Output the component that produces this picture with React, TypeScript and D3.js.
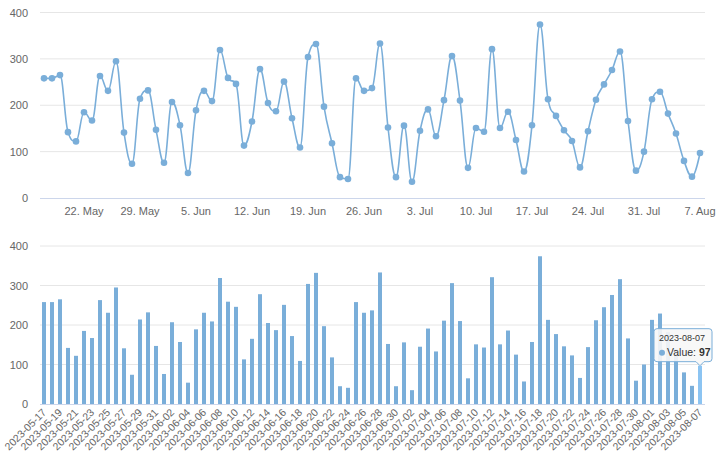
import React from "react";
import * as d3 from "d3";

const startDate = "2023-05-17";
const values: number[] = [
  258, 258, 265, 142, 122, 185, 167, 263, 231, 295,
  141, 74, 214, 232, 147, 76, 207, 157, 54, 189,
  231, 209, 319, 259, 246, 113, 165, 278, 205, 187,
  251, 172, 109, 304, 332, 197, 118, 45, 41, 258,
  231, 237, 333, 152, 45, 156, 35, 145, 191, 133,
  211, 306, 210, 65, 151, 143, 321, 151, 186, 125,
  57, 157, 374, 213, 177, 146, 123, 66, 144, 212,
  245, 276, 316, 166, 59, 100, 213, 229, 182, 139,
  80, 46, 97,
];
const yTicks = [0, 100, 200, 300, 400];
const tooltipIndex = 82;

const parse = d3.utcParse("%Y-%m-%d");
const fmt = d3.utcFormat("%Y-%m-%d");
const start = parse(startDate) as Date;
const dates: Date[] = values.map((_, i) => d3.utcDay.offset(start, i));
const labels = dates.map((d) => fmt(d));

const W = 720;
const H = 464;
const LEFT = 40;
const RIGHT = 705;
const FONT = "'Liberation Sans', Arial, Helvetica, sans-serif";
const COLOR = "#7aaed9";
const GRID = "#e6e6e6";
const AXIS = "#ccd6eb";
const LABEL = "#666666";

// Highcharts-style spline through scaled points
function splinePath(pts: [number, number][]): string {
  const sm = 1.5;
  const den = sm + 1;
  const ctrl = pts.map((p, i) => {
    const [x, y] = p;
    if (i === 0 || i === pts.length - 1) return { lx: x, ly: y, rx: x, ry: y };
    const [px, py] = pts[i - 1];
    const [nx, ny] = pts[i + 1];
    const lx = (sm * x + px) / den;
    let ly = (sm * y + py) / den;
    const rx = (sm * x + nx) / den;
    let ry = (sm * y + ny) / den;
    if (rx !== lx) {
      const corr = ((ry - ly) * (rx - x)) / (rx - lx) + y - ry;
      ly += corr;
      ry += corr;
    }
    if (ly > py && ly > y) {
      ly = Math.max(py, y);
      ry = 2 * y - ly;
    } else if (ly < py && ly < y) {
      ly = Math.min(py, y);
      ry = 2 * y - ly;
    }
    if (ry > ny && ry > y) {
      ry = Math.max(ny, y);
      ly = 2 * y - ry;
    } else if (ry < ny && ry < y) {
      ry = Math.min(ny, y);
      ly = 2 * y - ry;
    }
    return { lx, ly, rx, ry };
  });
  let d = `M${pts[0][0]},${pts[0][1]}`;
  for (let i = 1; i < pts.length; i++) {
    const a = ctrl[i - 1];
    const b = ctrl[i];
    d += ` C${a.rx},${a.ry} ${b.lx},${b.ly} ${pts[i][0]},${pts[i][1]}`;
  }
  return d;
}

export default function App() {
  // top line chart
  const xTop = d3.scaleUtc().domain([dates[0], dates[dates.length - 1]]).range([44, 700]);
  const yTop = d3.scaleLinear().domain([0, 400]).range([198, 12.5]);
  const pts: [number, number][] = values.map((v, i) => [xTop(dates[i]), yTop(v)]);
  const weekTicks = d3.utcMonday.range(dates[0], d3.utcDay.offset(dates[dates.length - 1], 1));
  const tickFmt = (d: Date) => `${d.getUTCDate()}. ${d3.utcFormat("%b")(d)}`;

  // bottom bar chart
  const xBot = d3.scaleBand<string>().domain(labels).range([40, 704]).paddingInner(0.5).paddingOuter(0.25);
  const yBot = d3.scaleLinear().domain([0, 400]).range([404, 246]);
  const bw = xBot.bandwidth();

  const tx = (xBot(labels[tooltipIndex]) as number) + bw / 2;
  const ty = yBot(values[tooltipIndex]);
  const boxR = tx + 12;
  const boxL = boxR - 58;
  const boxB = ty - 4;
  const boxT = boxB - 33;
  const r = 3;
  const tipPath = `M${boxL + r},${boxT} L${boxR - r},${boxT} Q${boxR},${boxT} ${boxR},${boxT + r} L${boxR},${boxB - r} Q${boxR},${boxB} ${boxR - r},${boxB} L${tx + 4},${boxB} L${tx},${ty} L${tx - 4},${boxB} L${boxL + r},${boxB} Q${boxL},${boxB} ${boxL},${boxB - r} L${boxL},${boxT + r} Q${boxL},${boxT} ${boxL + r},${boxT} Z`;

  return (
    <svg
      width={W}
      height={H}
      style={{ position: "absolute", left: 0, top: 0, background: "#fff" }}
      fontFamily={FONT}
    >
      {/* TOP CHART */}
      <g>
        {yTicks.map((t) => (
          <g key={"tg" + t}>
            {t > 0 && <line x1={LEFT} x2={RIGHT} y1={yTop(t)} y2={yTop(t)} stroke={GRID} strokeWidth={1} />}
            <text x={28} y={yTop(t) + 4} textAnchor="end" fontSize={11} fill={LABEL}>
              {t}
            </text>
          </g>
        ))}
        <line x1={LEFT} x2={RIGHT} y1={yTop(0) + 0.5} y2={yTop(0) + 0.5} stroke={AXIS} strokeWidth={1} />
        {weekTicks.map((d) => (
          <text key={"xt" + d.toISOString()} x={xTop(d)} y={215} textAnchor="middle" fontSize={11} fill={LABEL}>
            {tickFmt(d)}
          </text>
        ))}
        <path d={splinePath(pts)} fill="none" stroke={COLOR} strokeWidth={1.6} />
        {pts.map((p, i) => (
          <circle key={"pt" + i} cx={p[0]} cy={p[1]} r={3.3} fill={COLOR} />
        ))}
      </g>

      {/* BOTTOM CHART */}
      <g>
        {yTicks.map((t) => (
          <g key={"bg" + t}>
            {t > 0 && <line x1={LEFT} x2={RIGHT} y1={yBot(t)} y2={yBot(t)} stroke={GRID} strokeWidth={1} />}
            <text x={28} y={yBot(t) + 4} textAnchor="end" fontSize={11} fill={LABEL}>
              {t}
            </text>
          </g>
        ))}
        {values.map((v, i) => (
          <rect
            key={"bar" + i}
            x={xBot(labels[i])}
            y={yBot(v)}
            width={bw}
            height={yBot(0) - yBot(v)}
            fill={i === tooltipIndex ? "#8cc4f2" : COLOR}
          />
        ))}
        <line x1={LEFT} x2={RIGHT} y1={yBot(0) + 0.5} y2={yBot(0) + 0.5} stroke={AXIS} strokeWidth={1} />
        {labels.map((l, i) =>
          i % 2 === 0 ? (
            <text
              key={"bl" + i}
              transform={`translate(${(xBot(l) as number) + bw / 2 + 3},${413}) rotate(-45)`}
              textAnchor="end"
              fontSize={10.5}
              fill={LABEL}
            >
              {l}
            </text>
          ) : null
        )}
        {/* tooltip */}
        <path d={tipPath} fill="rgba(247,247,247,0.9)" stroke={COLOR} strokeWidth={1} />
        <text x={boxL + 5} y={boxT + 12} fontSize={9} fill="#333">
          {labels[tooltipIndex]}
        </text>
        <circle cx={boxL + 8} cy={boxT + 24} r={3} fill={COLOR} />
        <text x={boxL + 13} y={boxT + 27.5} fontSize={10.5} fill="#333">
          Value: <tspan fontWeight="bold">{values[tooltipIndex]}</tspan>
        </text>
      </g>
    </svg>
  );
}
